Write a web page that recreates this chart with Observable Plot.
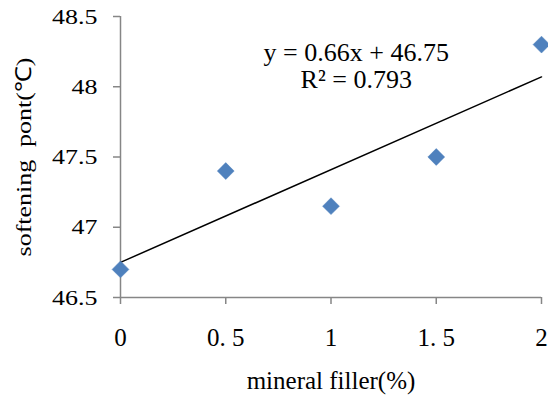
<!DOCTYPE html>
<html>
<head>
<meta charset="utf-8">
<script src="https://cdn.jsdelivr.net/npm/d3@7"></script>
<script src="https://cdn.jsdelivr.net/npm/@observablehq/plot@0.6"></script>
<style>
  html, body { margin: 0; padding: 0; background: #fff; }
  #chart svg { display: block; }
</style>
</head>
<body>
<div id="chart"></div>
<script>
// Softening point vs. mineral filler content
const fillerPct = [0, 0.5, 1, 1.5, 2];
const softeningPoint = [46.7, 47.4, 47.15, 47.5, 48.3];

const xTicks = [0, 0.5, 1, 1.5, 2];
const xTickLabels = ["0", "0. 5", "1", "1. 5", "2"];
const yTicks = [46.5, 47, 47.5, 48, 48.5];
const yTickLabels = ["46.5", "47", "47.5", "48", "48.5"];

// Linear trendline y = slope * x + intercept
const slope = 0.66;
const intercept = 46.75;
const rSquared = 0.793;

const points = fillerPct.map((x, i) => ({x, y: softeningPoint[i]}));
const trend = [0, 2].map(x => ({x, y: slope * x + intercept}));
const equation = [{x: 1.12, y: 47.99, label: `y = ${slope}x + ${intercept}\nR² = ${rSquared}`}];

const axisColor = "#868686";
const serif = "'Liberation Serif', 'Times New Roman', serif";

const chart = Plot.plot({
  width: 548,
  height: 400,
  marginLeft: 120,
  marginRight: 7,
  marginTop: 16,
  marginBottom: 103,
  style: {fontFamily: serif, background: "#fff", color: "#000"},
  x: {domain: [0, 2]},
  y: {domain: [46.5, 48.5]},
  marks: [
    Plot.axisY({
      ticks: yTicks,
      tickFormat: (d) => yTickLabels[yTicks.indexOf(d)],
      tickSize: 7,
      tickPadding: 16,
      stroke: axisColor,
      strokeWidth: 1.5,
      strokeOpacity: 1,
      fontSize: 22,
      fill: "#000",
      label: "softening\u00a0 pont(℃)",
      labelAnchor: "center",
      labelArrow: "none",
      labelOffset: 105
    }),
    Plot.axisX({
      ticks: xTicks,
      tickFormat: (d) => xTickLabels[xTicks.indexOf(d)],
      tickSize: 7,
      tickPadding: 24,
      stroke: axisColor,
      strokeWidth: 1.5,
      strokeOpacity: 1,
      fontSize: 25,
      fill: "#000",
      label: "mineral filler(%)",
      labelAnchor: "center",
      labelArrow: "none",
      labelOffset: 91
    }),
    Plot.ruleX([0], {stroke: axisColor, strokeWidth: 1.5}),
    Plot.ruleY([46.5], {stroke: axisColor, strokeWidth: 1.5}),
    Plot.line(trend, {x: "x", y: "y", stroke: "#000", strokeWidth: 1.5}),
    Plot.dot(points, {x: "x", y: "y", symbol: "diamond2", r: 7.6, fill: "#4f81bd", stroke: "#4f81bd", strokeWidth: 0.5}),
    Plot.text(equation, {x: "x", y: "y", text: "label", fontSize: 26, lineHeight: 1.04, fill: "#000", textAnchor: "middle", lineAnchor: "bottom"})
  ]
});

// The y-axis lettering is set in a wide face: stretch it along the reading direction
chart.querySelectorAll('g[aria-label="y-axis tick label"] text, g[aria-label="y-axis label"] text').forEach((t) => {
  const tr = t.getAttribute("transform") || "";
  t.setAttribute("transform", `${tr} scale(1.18,1)`);
});

document.getElementById("chart").append(chart);
</script>
</body>
</html>
